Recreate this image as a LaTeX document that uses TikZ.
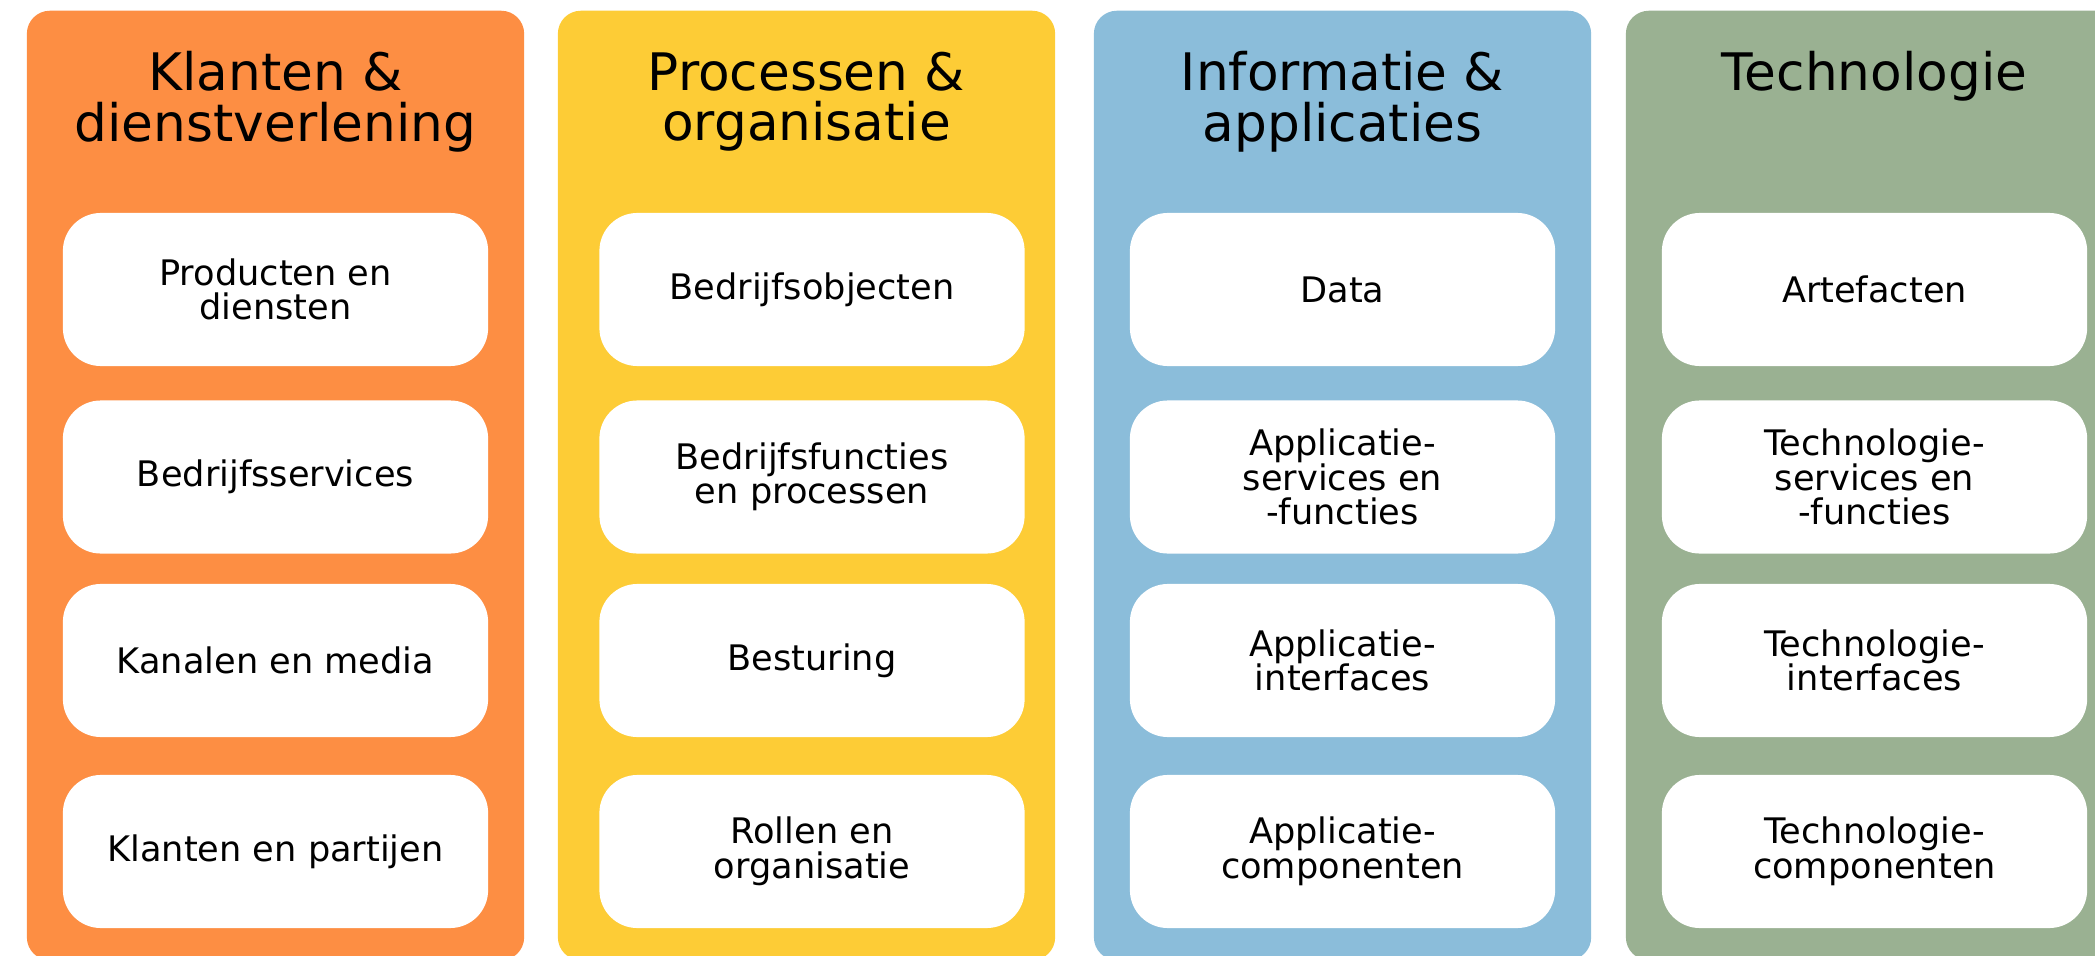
\documentclass[tikz,border=0pt]{standalone}
\usepackage{fontspec}
\setmainfont{DejaVu Sans}
\usepackage{tikz}
\usetikzlibrary{positioning}

\definecolor{kolOranje}{HTML}{FD8E43}
\definecolor{kolGeel}{HTML}{FDCC36}
\definecolor{kolBlauw}{HTML}{8BBDDA}
\definecolor{kolGroen}{HTML}{9AB192}

\tikzset{
	kolom/.style={rectangle, rounded corners=0.23cm, inner sep=0pt, minimum width=4.97cm, minimum height=9.49cm},
	titel/.style={anchor=north, inner sep=0pt, align=center, font=\fontsize{14.7}{14.4}\selectfont},
	blok/.style={rectangle, rounded corners=0.38cm, fill=white, inner sep=0pt, minimum width=4.25cm, minimum height=1.53cm, align=center, font=\fontsize{10}{9.8}\selectfont}
}

\begin{document}
\begin{tikzpicture}[x=0.01cm, y=-0.01cm]
				\clip (0,0) rectangle (2095,955);
				
				\node[kolom, fill=kolOranje] (k1) at (275.5,485.5) {};
				\node[kolom, fill=kolGeel] (k2) at (806.5,485.5) {};
				\node[kolom, fill=kolBlauw] (k3) at (1342.5,485.5) {};
				\node[kolom, fill=kolGroen] (k4) at (1874.5,485.5) {};
				
				\node[titel] (t1) at (275.5,51) {Klanten \&\\dienstverlening};
				\node[titel] (t2) at (806.5,51) {Processen \&\\organisatie};
				\node[titel] (t3) at (1342.5,51) {Informatie \&\\applicaties};
				\node[titel] (t4) at (1874.5,51) {Technologie};
				
				\node[blok] (k1a) at (275.5,289.5) {Producten en\\diensten};
				\node[blok] (k1b) at (275.5,477) {Bedrijfsservices};
				\node[blok] (k1c) at (275.5,660.5) {Kanalen en media};
				\node[blok] (k1d) at (275.5,851.5) {Klanten en partijen};
				
				\node[blok] (k2a) at (812,289.5) {Bedrijfsobjecten};
				\node[blok] (k2b) at (812,477) {Bedrijfsfuncties\\en processen};
				\node[blok] (k2c) at (812,660.5) {Besturing};
				\node[blok] (k2d) at (812,851.5) {Rollen en\\organisatie};
				
				\node[blok] (k3a) at (1342.5,289.5) {Data};
				\node[blok] (k3b) at (1342.5,477) {Applicatie-\\services en\\-functies};
				\node[blok] (k3c) at (1342.5,660.5) {Applicatie-\\interfaces};
				\node[blok] (k3d) at (1342.5,851.5) {Applicatie-\\componenten};
				
				\node[blok] (k4a) at (1874.5,289.5) {Artefacten};
				\node[blok] (k4b) at (1874.5,477) {Technologie-\\services en\\-functies};
				\node[blok] (k4c) at (1874.5,660.5) {Technologie-\\interfaces};
				\node[blok] (k4d) at (1874.5,851.5) {Technologie-\\componenten};
			\end{tikzpicture}
\end{document}
